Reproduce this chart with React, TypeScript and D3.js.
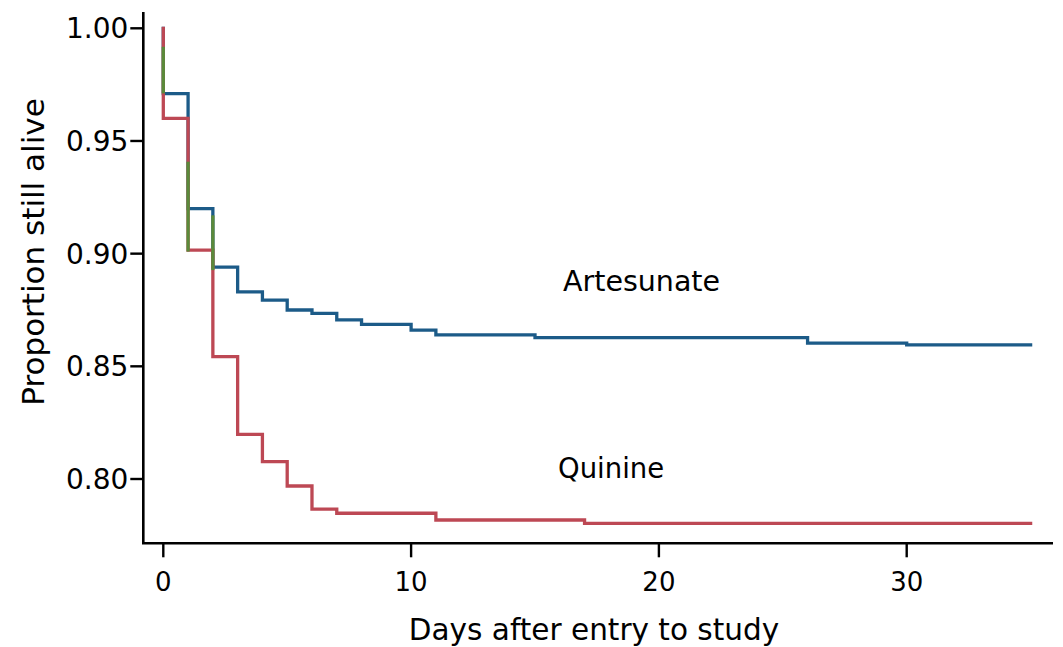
import React from "react";
import * as d3 from "d3";

// Kaplan–Meier survival estimates by treatment arm (step after each day)
const artesunateDays = [0, 0, 1, 2, 3, 4, 5, 6, 7, 8, 10, 11, 15, 26, 30, 35];
const artesunateSurv = [1.0, 0.971, 0.92, 0.894, 0.883, 0.8794, 0.875, 0.8735, 0.8706, 0.8686, 0.8661, 0.864, 0.8627, 0.8603, 0.8595, 0.8595];

const quinineDays = [0, 0, 1, 2, 3, 4, 5, 6, 7, 11, 17, 35];
const quinineSurv = [1.0, 0.96, 0.9016, 0.8543, 0.8198, 0.8077, 0.7969, 0.7866, 0.7848, 0.7818, 0.7803, 0.7803];

// Vertical drops shared by both arms (day, upper value, lower value)
const sharedDropDays = [0, 1, 2];
const sharedDropTop = [0.9918, 0.9408, 0.917];
const sharedDropBottom = [0.9711, 0.9009, 0.8927];

const xTicks = [0, 10, 20, 30];
const yTicks = [0.8, 0.85, 0.9, 0.95, 1.0];

const W = 1063;
const H = 647;
const axisLeft = 143.3;
const axisRight = 1053;
const axisTop = 12;
const axisBottom = 543.3;

const FONT = "'DejaVu Sans', Verdana, sans-serif";
const BLUE = "#1c5b88";
const RED = "#bd4854";
const GREEN = "#5b8a3a";

export default function App() {
  const x = d3.scaleLinear().domain([0, 35]).range([163.3, 1030.6]);
  const y = d3.scaleLinear().domain([0.8, 1.0]).range([479, 28.3]);

  const step = d3
    .line<[number, number]>()
    .x((d) => x(d[0]))
    .y((d) => y(d[1]))
    .curve(d3.curveStepAfter);

  const artPts = artesunateDays.map((d, i) => [d, artesunateSurv[i]] as [number, number]);
  const quiPts = quinineDays.map((d, i) => [d, quinineSurv[i]] as [number, number]);

  return (
    <svg
      width={W}
      height={H}
      style={{ position: "absolute", left: 0, top: 0, background: "#fff" }}
      fontFamily={FONT}
    >
      {/* axes */}
      <line x1={axisLeft} x2={axisLeft} y1={axisTop} y2={axisBottom} stroke="#000" strokeWidth={2.6} />
      <line x1={axisLeft - 1.3} x2={axisRight} y1={axisBottom} y2={axisBottom} stroke="#000" strokeWidth={2.6} />

      {yTicks.map((t) => (
        <g key={`y${t}`}>
          <line x1={axisLeft - 13} x2={axisLeft} y1={y(t)} y2={y(t)} stroke="#000" strokeWidth={2.4} />
          <text x={axisLeft - 15} y={y(t)} dy="0.36em" textAnchor="end" fontSize={28}>
            {t.toFixed(2)}
          </text>
        </g>
      ))}

      {xTicks.map((t) => (
        <g key={`x${t}`}>
          <line x1={x(t)} x2={x(t)} y1={axisBottom} y2={axisBottom + 14} stroke="#000" strokeWidth={2.4} />
          <text x={x(t)} y={591} textAnchor="middle" fontSize={26}>
            {t}
          </text>
        </g>
      ))}

      <text x={594} y={640} textAnchor="middle" fontSize={29.5}>
        Days after entry to study
      </text>
      <text transform="translate(44,252) rotate(-90)" textAnchor="middle" fontSize={31}>
        Proportion still alive
      </text>

      {/* survival curves */}
      <path d={step(artPts) ?? ""} fill="none" stroke={BLUE} strokeWidth={3.3} strokeLinejoin="miter" strokeLinecap="square" />
      <path d={step(quiPts) ?? ""} fill="none" stroke={RED} strokeWidth={3.3} strokeLinejoin="miter" strokeLinecap="square" />
      {sharedDropDays.map((d, i) => (
        <line
          key={`g${i}`}
          x1={x(d)}
          x2={x(d)}
          y1={y(sharedDropTop[i])}
          y2={y(sharedDropBottom[i])}
          stroke={GREEN}
          strokeWidth={3.3}
        />
      ))}

      <text x={563} y={291} fontSize={28.5}>
        Artesunate
      </text>
      <text x={558} y={478} fontSize={27.5}>
        Quinine
      </text>
    </svg>
  );
}
